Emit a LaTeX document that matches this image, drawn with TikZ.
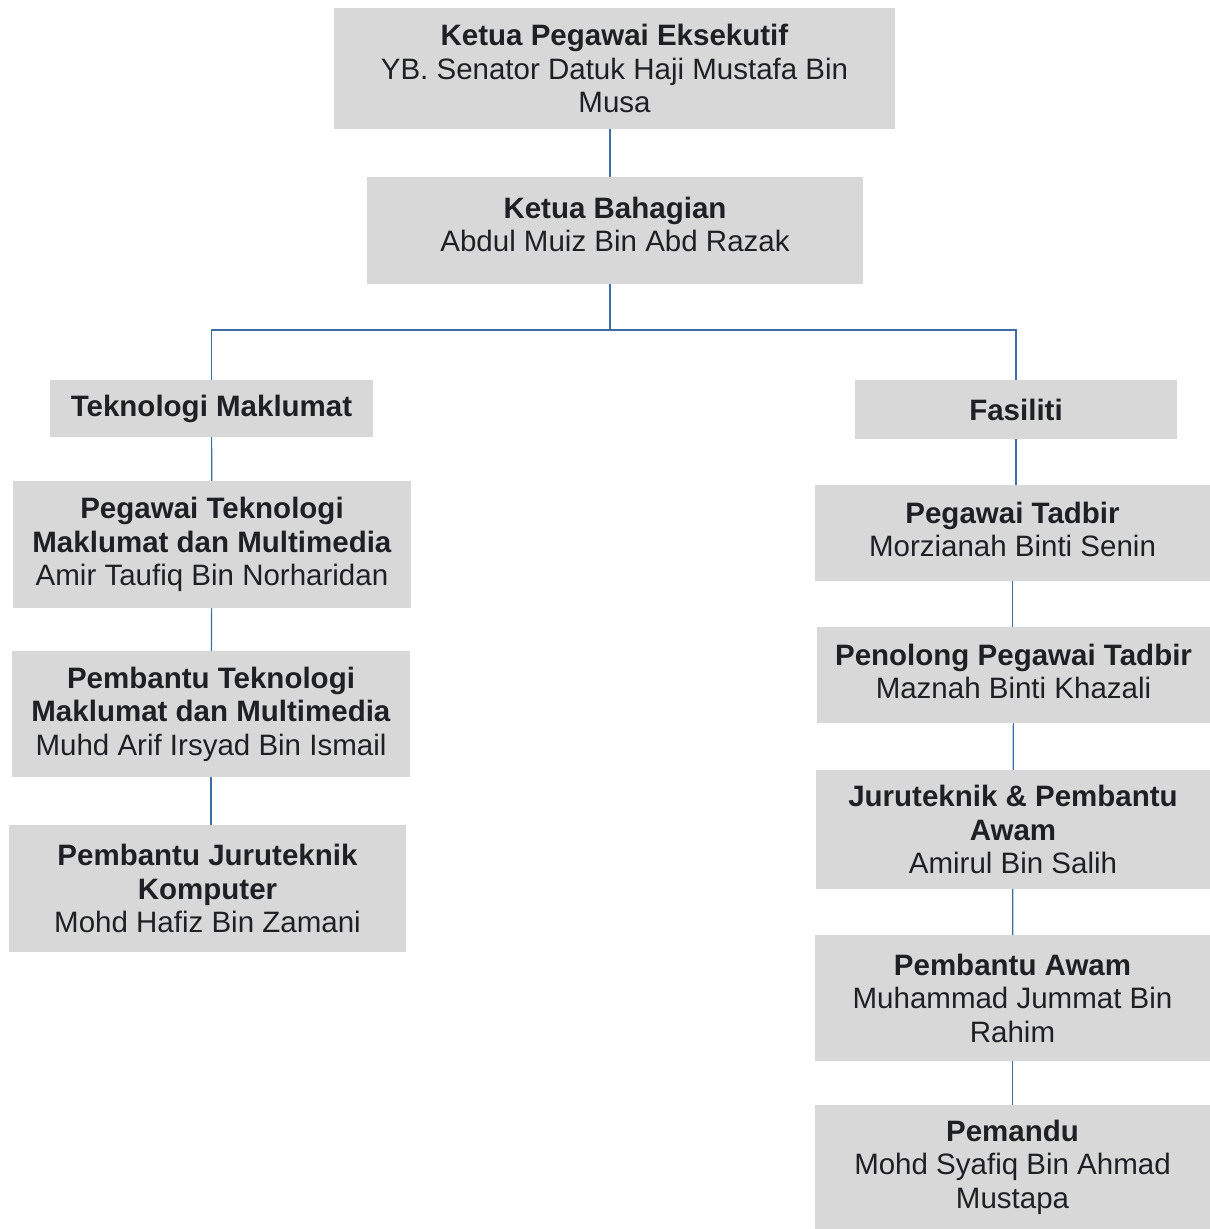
\documentclass[tikz,border=0pt]{standalone}
\usepackage{fontspec}
\setmainfont{Liberation Sans}
\usepackage{xcolor}
\usepackage{tikz}
\usetikzlibrary{positioning}

\definecolor{boxgray}{RGB}{216,216,216}
\definecolor{linkblue}{RGB}{62,108,165}
\definecolor{inkdark}{RGB}{30,32,36}

\begin{document}
\begin{tikzpicture}[x=1pt,y=-1pt,
  post/.style={fill=boxgray,text=inkdark,align=center,inner sep=0pt,
    font=\fontsize{29.5}{33.5}\selectfont},
  link/.style={draw=linkblue,line width=1.2pt}]
\useasboundingbox (0,0) rectangle (1210,1229);
% top
\node[post,minimum width=561pt,minimum height=121pt] (ceo) at (614.5,68.5)
  {\textbf{Ketua Pegawai Eksekutif}\\YB. Senator Datuk Haji Mustafa Bin\\Musa};
\node[post,minimum width=496pt,minimum height=107pt] (kb) at (615,230.5)
  {\textbf{Ketua Bahagian}\\Abdul Muiz Bin Abd Razak\\[-21.5pt]};
% units
\node[post,minimum width=323pt,minimum height=57pt] (tm) at (211.5,408.5)
  {\textbf{Teknologi Maklumat}};
\node[post,minimum width=322pt,minimum height=59pt] (fas) at (1016,409.5)
  {\textbf{Fasiliti}};
% left column
\node[post,minimum width=398pt,minimum height=127pt] (ptm) at (212,544.5)
  {\textbf{Pegawai Teknologi}\\\textbf{Maklumat dan Multimedia}\\Amir Taufiq Bin Norharidan};
\node[post,minimum width=398pt,minimum height=126pt] (pbtm) at (211,714)
  {\textbf{Pembantu Teknologi}\\\textbf{Maklumat dan Multimedia}\\Muhd Arif Irsyad Bin Ismail};
\node[post,minimum width=397pt,minimum height=127pt] (pjk) at (207.5,888.5)
  {\textbf{Pembantu Juruteknik}\\\textbf{Komputer}\\Mohd Hafiz Bin Zamani};
% right column
\node[post,minimum width=395pt,minimum height=96pt] (pt) at (1012.5,533)
  {\textbf{Pegawai Tadbir}\\Morzianah Binti Senin\\[-26.5pt]};
\node[post,minimum width=393pt,minimum height=96pt] (ppt) at (1013.5,675)
  {\textbf{Penolong Pegawai Tadbir}\\Maznah Binti Khazali\\[-26.5pt]};
\node[post,minimum width=394pt,minimum height=119pt] (jpa) at (1013,829.5)
  {\textbf{Juruteknik \& Pembantu}\\\textbf{Awam}\\Amirul Bin Salih};
\node[post,minimum width=395pt,minimum height=126pt] (pa) at (1012.5,998)
  {\textbf{Pembantu Awam}\\Muhammad Jummat Bin\\Rahim};
\node[post,minimum width=395pt,minimum height=124pt] (pmd) at (1012.5,1167)
  {\textbf{Pemandu}\\Mohd Syafiq Bin Ahmad\\Mustapa};
% links
\coordinate (bus) at (610,330);
\draw[link] (ceo.south -| bus) -- (kb.north -| bus);
\draw[link] (kb.south -| bus) -- (bus);
\draw[link] (tm.north) -- (tm.north |- bus) -- (fas.north |- bus) -- (fas.north);
\draw[link] (tm) -- (ptm);
\draw[link] (ptm) -- (pbtm);
\draw[link] (pbtm) -- (pjk.north -| pbtm);
\draw[link] (fas) -- (pt.north -| fas);
\draw[link] (pt) -- (ppt.north -| pt);
\draw[link] (ppt) -- (jpa);
\draw[link] (jpa) -- (pa);
\draw[link] (pa) -- (pmd);
\end{tikzpicture}
\end{document}
